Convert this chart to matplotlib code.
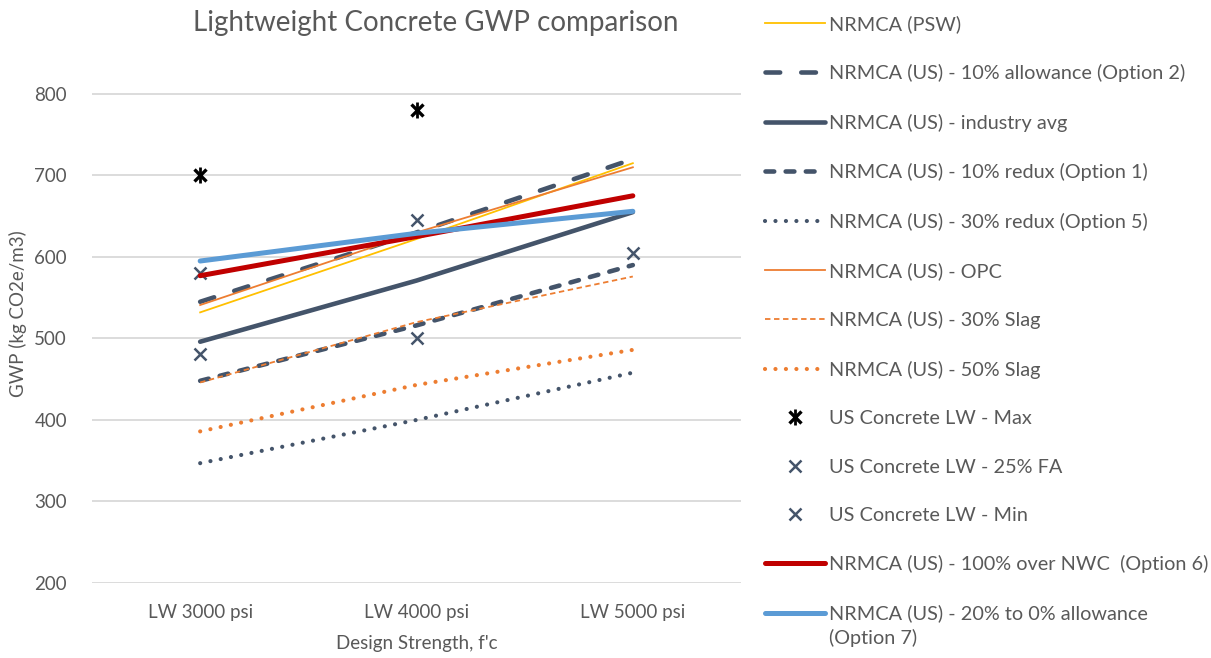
import numpy as np
import matplotlib
matplotlib.use('Agg')
import matplotlib.pyplot as plt
from matplotlib.legend_handler import HandlerTuple

plt.rcParams['font.family'] = ['Lato', 'DejaVu Sans']

# ── data ───────────────────────────────────────────────────
categories = ['LW 3000 psi', 'LW 4000 psi', 'LW 5000 psi']

psw        = [532, 622, 715]
opt2_allow = [545, 630, 720]
ind_avg    = [496, 571, 655]
opt1_redux = [448, 516, 590]
opt5_redux = [347, 400, 458]
opc        = [541, 630, 710]
slag30     = [446, 520, 576]
slag50     = [386, 443, 486]
usc_max    = [700, 780, np.nan]
usc_fa25   = [580, 645, np.nan]
usc_min    = [481, 500, 605]
opt6_nwc   = [577, 625, 675]
opt7_allow = [595, 629, 656]

SLATE  = '#44546A'
ORANGE = '#ED7D31'
YELLOW = '#FFC000'
RED    = '#C00000'
BLUE   = '#5B9BD5'
TXT    = '#595959'
GRID   = '#D9D9D9'

fig = plt.figure(figsize=(12.11, 6.58), dpi=100)
ax = fig.add_axes([92/1211, 1-583/658, (741-92)/1211, (583-45)/658])

x = np.arange(len(categories))
h = {}

h['psw'], = ax.plot(x, psw, color=YELLOW, lw=1.3)
h['o2'], = ax.plot(x, opt2_allow, color=SLATE, lw=3.3, ls=(0, (3.2, 4.6)),
                   dash_capstyle='round')
h['avg'], = ax.plot(x, ind_avg, color=SLATE, lw=3.3, solid_capstyle='round')
h['o1'], = ax.plot(x, opt1_redux, color=SLATE, lw=3.3, ls=(0, (1.9, 2.5)),
                   dash_capstyle='round')
h['o5'], = ax.plot(x, opt5_redux, color=SLATE, lw=3.0, ls=(0, (0.01, 2.5)),
                   dash_capstyle='round')
h['opc'], = ax.plot(x, opc, color=ORANGE, lw=1.3)
h['s30'], = ax.plot(x, slag30, color=ORANGE, lw=1.3, ls=(0, (3, 2)))
h['s50'], = ax.plot(x, slag50, color=ORANGE, lw=3.0, ls=(0, (0.01, 2.5)),
                    dash_capstyle='round')

mx1, = ax.plot(x, usc_max, ls='none', marker='x', ms=8, mew=2.4, color='black')
mx2, = ax.plot(x, usc_max, ls='none', marker='|', ms=11, mew=2.0, color='black')
h['max'] = (mx1, mx2)
h['fa'], = ax.plot(x, usc_fa25, ls='none', marker='x', ms=9, mew=1.8, color=SLATE)
h['min'], = ax.plot(x, usc_min, ls='none', marker='x', ms=8, mew=1.8, color=SLATE)
h['o6'], = ax.plot(x, opt6_nwc, color=RED, lw=3.6, solid_capstyle='round')
h['o7'], = ax.plot(x, opt7_allow, color=BLUE, lw=3.6, solid_capstyle='round')

ax.set_xlim(-0.5, 2.5)
ax.set_ylim(200, 860)
ax.set_yticks(range(200, 801, 100))
ax.set_xticks(x, categories)
ax.grid(axis='y', color=GRID, lw=1.3)
ax.set_axisbelow(True)
for sp in ax.spines.values():
    sp.set_visible(False)
ax.tick_params(length=0, colors=TXT, labelsize=13.5)
ax.tick_params(axis='y', pad=18)
ax.tick_params(axis='x', pad=15)
ax.set_ylabel('GWP (kg CO2e/m3)', color=TXT, fontsize=13.5, labelpad=5)
ax.set_xlabel("Design Strength, f'c", color=TXT, fontsize=13.5, labelpad=10)
fig.text(436/1211, 1-23/658, 'Lightweight Concrete GWP comparison', color=TXT,
         fontsize=20, ha='center', va='center')

order = ['psw', 'o2', 'avg', 'o1', 'o5', 'opc', 's30', 's50', 'max', 'fa', 'min', 'o6', 'o7']
labels = ['NRMCA (PSW)', 'NRMCA (US) - 10% allowance (Option 2)',
          'NRMCA (US) - industry avg', 'NRMCA (US) - 10% redux (Option 1)',
          'NRMCA (US) - 30% redux (Option 5)', 'NRMCA (US) - OPC',
          'NRMCA (US) - 30% Slag', 'NRMCA (US) - 50% Slag',
          'US Concrete LW - Max', 'US Concrete LW - 25% FA', 'US Concrete LW - Min',
          'NRMCA (US) - 100% over NWC  (Option 6)',
          'NRMCA (US) - 20% to 0% allowance']
leg = fig.legend([h[k] for k in order], labels, loc='upper left',
                 bbox_to_anchor=(755/1211, 1-5/658), frameon=False, borderpad=0,
                 fontsize=14.3, labelcolor=TXT, handlelength=3.0,
                 handletextpad=0.25, labelspacing=1.58,
                 handler_map={tuple: HandlerTuple(ndivide=1)})

# second line of the last legend label
fig.canvas.draw()
bb = leg.get_texts()[-1].get_window_extent()
fx, fy = fig.transFigure.inverted().transform((bb.x0, bb.y0))
fig.text(fx, fy - 6/658, '(Option 7)', color=TXT, fontsize=14.3, ha='left', va='top')

fig.savefig('out.png', dpi=100)
